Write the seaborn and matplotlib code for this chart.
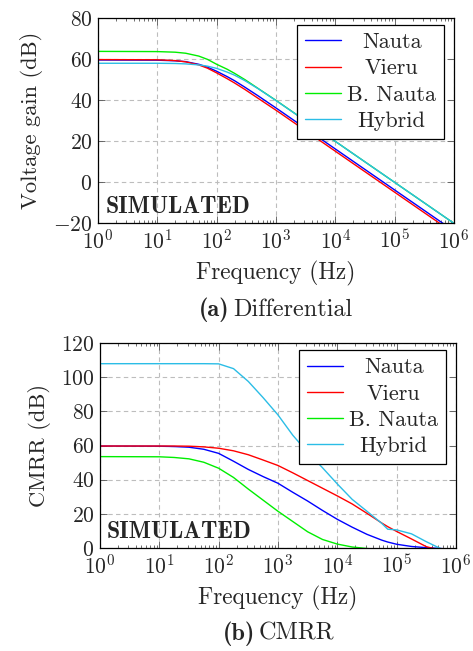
import numpy as np
import pandas as pd
import matplotlib
matplotlib.use('Agg')
import matplotlib.pyplot as plt
import matplotlib.ticker as mticker
import seaborn as sns

# values
designs = ['Nauta', 'Vieru', 'B. Nauta', 'Hybrid']
colors = ['#0000ff', '#ff0000', '#00ee00', '#2bbde6']

# (a) differential voltage gain (dB)
freq_dm = [1, 10, 20, 30, 50, 70, 100, 150, 200, 300, 500, 1000, 10000, 100000, 1000000]
gain_nauta = [59.5, 59.4, 59.1, 58.7, 57.4, 56.0, 54.0, 51.4, 49.4, 46.2, 42.0, 36.1, 16.1, -3.9, -23.9]
gain_vieru = [59.7, 59.6, 59.2, 58.6, 57.1, 55.5, 53.2, 50.4, 48.3, 45.1, 40.8, 35.0, 15.0, -5.0, -25.0]
gain_bnauta = [63.7, 63.6, 63.3, 62.8, 61.4, 59.8, 57.4, 55.0, 53.0, 49.9, 45.6, 39.8, 19.8, -0.2, -20.2]
gain_hybrid = [57.9, 57.9, 57.8, 57.6, 57.1, 56.5, 55.4, 53.6, 52.1, 49.4, 45.5, 39.7, 19.8, -0.2, -20.2]

# (b) CMRR (dB)
freq_cm = [1, 10, 17.8, 31.6, 56.2, 100, 178, 316, 562, 1000, 1778, 3162, 5623, 10000,
           17783, 31623, 56234, 70795, 100000, 177828, 316228, 562341, 1000000]
cmrr_nauta = [59.7, 59.6, 59.4, 59.0, 57.8, 55.4, 50.8, 46.0, 41.8, 37.9, 32.6, 27.5, 22.0, 16.8,
              12.2, 8.0, 4.6, 3.5, 2.2, 0.9, 0.2, -0.3, -1.0]
cmrr_vieru = [59.7, 59.7, 59.7, 59.6, 59.2, 58.4, 56.9, 54.6, 51.5, 48.3, 44.0, 39.5, 35.0, 30.5,
              25.8, 20.3, 14.6, 12.5, 9.7, 5.3, 0.8, -1.5, -6.0]
cmrr_bnauta = [53.5, 53.4, 53.0, 52.2, 50.2, 46.7, 41.3, 34.5, 28.0, 21.5, 15.5, 9.5, 5.0, 2.3,
               0.6, -0.3, -1.0, -1.2, -1.5, -2.0, -3.0, -4.0, -5.0]
cmrr_hybrid = [107.9, 107.9, 107.9, 107.9, 107.9, 107.8, 105.0, 97.5, 88.0, 77.9, 66.0, 56.0, 47.0, 37.5,
               28.5, 21.5, 14.4, 11.0, 10.6, 8.3, 3.7, -0.5, -5.0]

df_dm = pd.DataFrame({
    'freq': freq_dm * 4,
    'val': gain_nauta + gain_vieru + gain_bnauta + gain_hybrid,
    'design': np.repeat(designs, len(freq_dm)),
})
df_cm = pd.DataFrame({
    'freq': freq_cm * 4,
    'val': cmrr_nauta + cmrr_vieru + cmrr_bnauta + cmrr_hybrid,
    'design': np.repeat(designs, len(freq_cm)),
})

sns.set_style('ticks')
plt.rcParams['font.family'] = ['cmr10']
plt.rcParams['mathtext.fontset'] = 'cm'
plt.rcParams['axes.formatter.use_mathtext'] = True
plt.rcParams['axes.unicode_minus'] = True
FS_TICK = 15.5
FS_LEG = 16
FS_XLAB = 16.8
FS_YLAB = 16.2
FS_CAP = 17.5

fig = plt.figure(figsize=(4.73, 6.51), dpi=100)
ax1 = fig.add_axes([0.2072, 0.6575, 0.7526, 0.3149])
ax2 = fig.add_axes([0.2114, 0.1582, 0.7526, 0.3149])


def center_legend_text(leg):
    r = fig.canvas.get_renderer()
    texts = leg.get_texts()
    ws = [t.get_window_extent(r).width for t in texts]
    for t, w in zip(texts, ws):
        t.set_x((max(ws) - w) / 2)


def style(ax, df, ylim, yticks, ylabel):
    sns.lineplot(data=df, x='freq', y='val', hue='design', hue_order=designs,
                 palette=colors, linewidth=1.0, ax=ax, legend=True)
    ax.set_xscale('log')
    ax.set_xlim(1, 1e6)
    ax.set_ylim(*ylim)
    ax.set_yticks(yticks)
    ax.set_xticks([10.0 ** k for k in range(7)])
    ax.xaxis.set_minor_locator(mticker.LogLocator(base=10, subs=np.arange(2, 10), numticks=20))
    ax.xaxis.set_minor_formatter(mticker.NullFormatter())
    ax.grid(True, which='major', color='#bdbdbd', linestyle=(0, (4, 3)), linewidth=0.8)
    ax.tick_params(which='both', direction='in', top=True, right=True, labelsize=FS_TICK,
                   color='#555555', width=0.6)
    ax.tick_params(which='major', length=5, pad=4)
    ax.tick_params(which='minor', length=2.5)
    for s in ax.spines.values():
        s.set_color('black')
        s.set_linewidth(0.9)
    ax.set_xlabel('Frequency (Hz)', fontsize=FS_XLAB, labelpad=6)
    ax.set_ylabel(ylabel, fontsize=FS_YLAB, labelpad=7)
    ax.text(0.02, 0.025, 'SIMULATED', transform=ax.transAxes, fontsize=17,
            family='cmb10', ha='left', va='bottom')
    handles, labels = ax.get_legend_handles_labels()
    leg = ax.legend(handles, labels, loc='upper right', bbox_to_anchor=(0.972, 0.966),
                    fontsize=FS_LEG, frameon=True, fancybox=False, edgecolor='black',
                    framealpha=1, handlelength=1.6, handletextpad=0.3,
                    labelspacing=0.3, borderpad=0.35, borderaxespad=0)
    leg.get_frame().set_linewidth(0.9)
    center_legend_text(leg)


style(ax1, df_dm, (-20, 80), [-20, 0, 20, 40, 60, 80], 'Voltage gain (dB)')
style(ax2, df_cm, (0, 120), [0, 20, 40, 60, 80, 100, 120], 'CMRR (dB)')

# sub-captions: bold tag + caption text
fig.text(229 / 473, 1 - 316 / 651, '(a)', family='cmb10', ha='right', va='baseline', fontsize=FS_CAP)
fig.text(233 / 473, 1 - 316 / 651, 'Differential', ha='left', va='baseline', fontsize=FS_CAP)
fig.text(255 / 473, 1 - 640 / 651, '(b)', family='cmb10', ha='right', va='baseline', fontsize=FS_CAP)
fig.text(259 / 473, 1 - 640 / 651, 'CMRR', ha='left', va='baseline', fontsize=FS_CAP)

fig.savefig('out.png', dpi=100)
